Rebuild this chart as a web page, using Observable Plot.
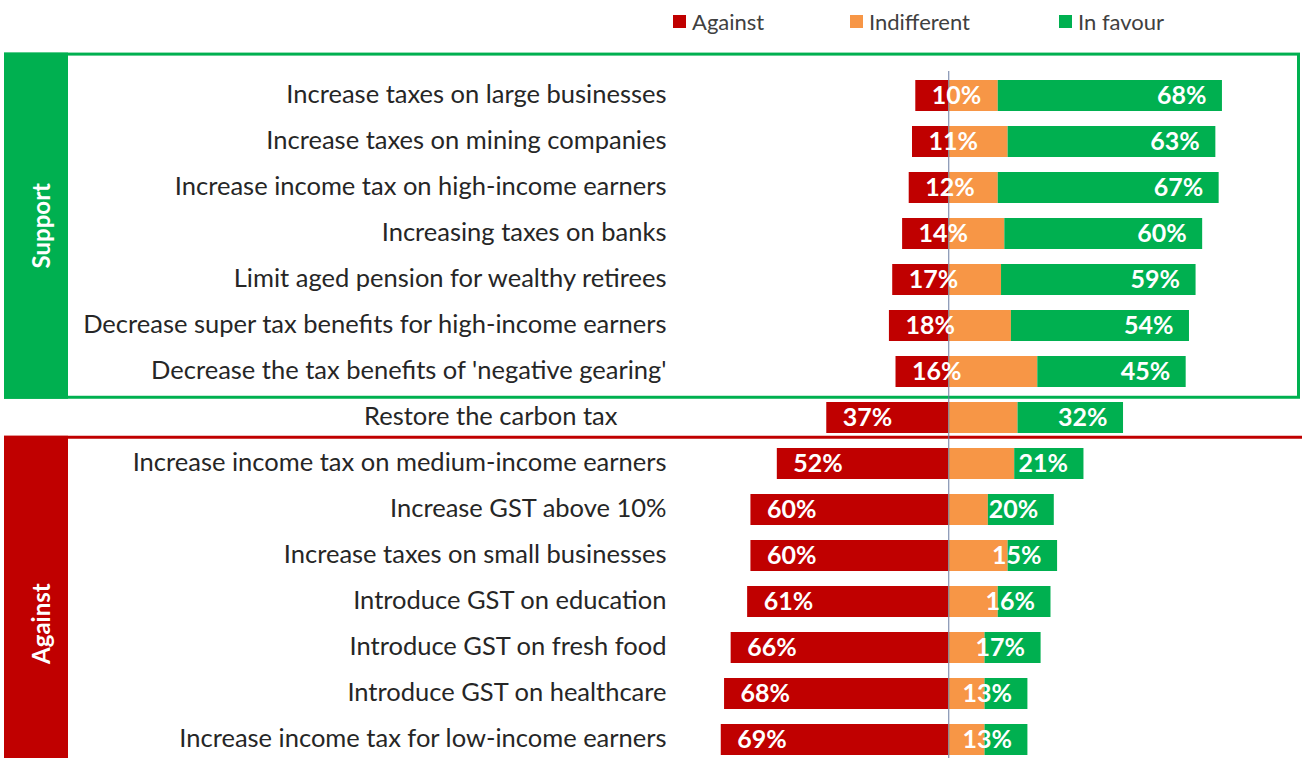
<!DOCTYPE html>
<html>
<head>
<meta charset="utf-8">
<script src="https://cdn.jsdelivr.net/npm/d3@7"></script>
<script src="https://cdn.jsdelivr.net/npm/@observablehq/plot@0.6"></script>
<style>
html, body { margin: 0; padding: 0; background: #fff; overflow: hidden; width: 1302px; height: 758px; }
body { font-family: Lato, sans-serif; }
#legend { position: relative; height: 40px; width: 1302px; }
.li { position: absolute; top: 8px; height: 26px; display: flex; align-items: center; font-size: 22px; color: #404040; }
.sw { display: inline-block; width: 13px; height: 13px; margin-right: 6px; }
#chart svg { display: block; }
</style>
</head>
<body>
<div id="legend"></div>
<div id="chart"></div>
<script>
const supportItems = [
  "Increase taxes on large businesses",
  "Increase taxes on mining companies",
  "Increase income tax on high-income earners",
  "Increasing taxes on banks",
  "Limit aged pension for wealthy retirees",
  "Decrease super tax benefits for high-income earners",
  "Decrease the tax benefits of 'negative gearing'"
];
const neutralItems = ["Restore the carbon tax"];
const opposeItems = [
  "Increase income tax on medium-income earners",
  "Increase GST above 10%",
  "Increase taxes on small businesses",
  "Introduce GST on education",
  "Introduce GST on fresh food",
  "Introduce GST on healthcare",
  "Increase income tax for low-income earners"
];
const against     = [10, 11, 12, 14, 17, 18, 16, 37, 52, 60, 60, 61, 66, 68, 69];
const indifferent = [15, 18, 15, 17, 16, 19, 27, 21, 20, 12, 18, 15, 11, 11, 11];
const inFavour    = [68, 63, 67, 60, 59, 54, 45, 32, 21, 20, 15, 16, 17, 13, 13];
const responses = ["Against", "Indifferent", "In favour"];
const colors = ["#C00000", "#F79646", "#00B050"];
const groupLabels = ["Support", "Against"];

const items = [...supportItems, ...neutralItems, ...opposeItems];

const segs = items.flatMap((item, i) => [
  {item, response: "Against", x1: -against[i], x2: 0},
  {item, response: "Indifferent", x1: 0, x2: indifferent[i]},
  {item, response: "In favour", x1: indifferent[i], x2: indifferent[i] + inFavour[i]}
]);
const rows = items.map((item, i) => ({
  item,
  neutral: neutralItems.includes(item),
  against: against[i],
  indiff: indifferent[i],
  favour: inFavour[i]
}));

// Legend
const legend = document.getElementById("legend");
const legendLeft = [673, 850, 1059];
responses.forEach((r, i) => {
  const el = document.createElement("div");
  el.className = "li";
  el.style.left = legendLeft[i] + "px";
  el.innerHTML = `<span class="sw" style="background:${colors[i]}"></span><span>${r}</span>`;
  legend.appendChild(el);
});

const labelStyle = {fontSize: 25.5, fill: "#262626"};
const valStyle = {fontSize: 25, fill: "white", fontWeight: "bold"};

const chart = Plot.plot({
  width: 1302,
  height: 730,
  marginLeft: 668,
  marginRight: 24,
  marginTop: 31,
  marginBottom: 7,
  x: {domain: [-85, 100], axis: null},
  y: {domain: items, axis: null, paddingInner: 0.33, paddingOuter: 0.165},
  color: {domain: responses, range: colors},
  style: {fontFamily: "Lato, sans-serif", background: "white"},
  marks: [
    Plot.barX(segs, {y: "item", x1: "x1", x2: "x2", fill: "response"}),
    Plot.ruleX([0], {stroke: "#6A7BA2", strokeWidth: 1}),
    Plot.text(rows.filter(d => !d.neutral), {y: "item", x: -85, text: "item", textAnchor: "end", dx: -2, dy: -1, ...labelStyle}),
    Plot.text(rows.filter(d => d.neutral), {y: "item", x: -85, text: "item", textAnchor: "end", dx: -51, dy: -1, ...labelStyle}),
    Plot.text(rows, {y: "item", x: d => -d.against, text: d => d.against + "%", textAnchor: "start", dx: 16, ...valStyle}),
    Plot.text(rows, {y: "item", x: d => d.indiff + d.favour, text: d => d.favour + "%", textAnchor: "end", dx: -16, ...valStyle})
  ]
});
document.getElementById("chart").appendChild(chart);

// Group boxes
const ys = chart.scale("y");
const step = ys.step;
const center = d => ys.apply(d) + ys.bandwidth / 2;
const svg = d3.select(chart);
const H = 730;
const deco = svg.insert("g", ":first-child");
const gTop = center(supportItems[0]) - 0.9 * step;
const gBot = center(supportItems[supportItems.length - 1]) + 0.56 * step;
const rTop = center(opposeItems[0]) - 0.57 * step;

deco.append("rect")
  .attr("x", 5.5).attr("y", gTop).attr("width", 1293).attr("height", gBot - gTop)
  .attr("fill", "none").attr("stroke", colors[2]).attr("stroke-width", 3);
deco.append("rect")
  .attr("x", 4).attr("y", gTop - 1.5).attr("width", 64).attr("height", gBot - gTop + 3)
  .attr("fill", colors[2]);
deco.append("text")
  .attr("transform", `translate(40,${(gTop + gBot) / 2}) rotate(-90)`)
  .attr("text-anchor", "middle").attr("dominant-baseline", "central")
  .attr("fill", "white").attr("font-weight", "bold").attr("font-size", 24)
  .text(groupLabels[0]);

deco.append("line")
  .attr("x1", 4).attr("x2", 1302).attr("y1", rTop).attr("y2", rTop)
  .attr("stroke", colors[0]).attr("stroke-width", 3);
deco.append("rect")
  .attr("x", 4).attr("y", rTop - 1.5).attr("width", 64).attr("height", H - rTop + 10)
  .attr("fill", colors[0]);
deco.append("text")
  .attr("transform", `translate(40,${(rTop + H + 40) / 2}) rotate(-90)`)
  .attr("text-anchor", "middle").attr("dominant-baseline", "central")
  .attr("fill", "white").attr("font-weight", "bold").attr("font-size", 24)
  .text(groupLabels[1]);
</script>
</body>
</html>
